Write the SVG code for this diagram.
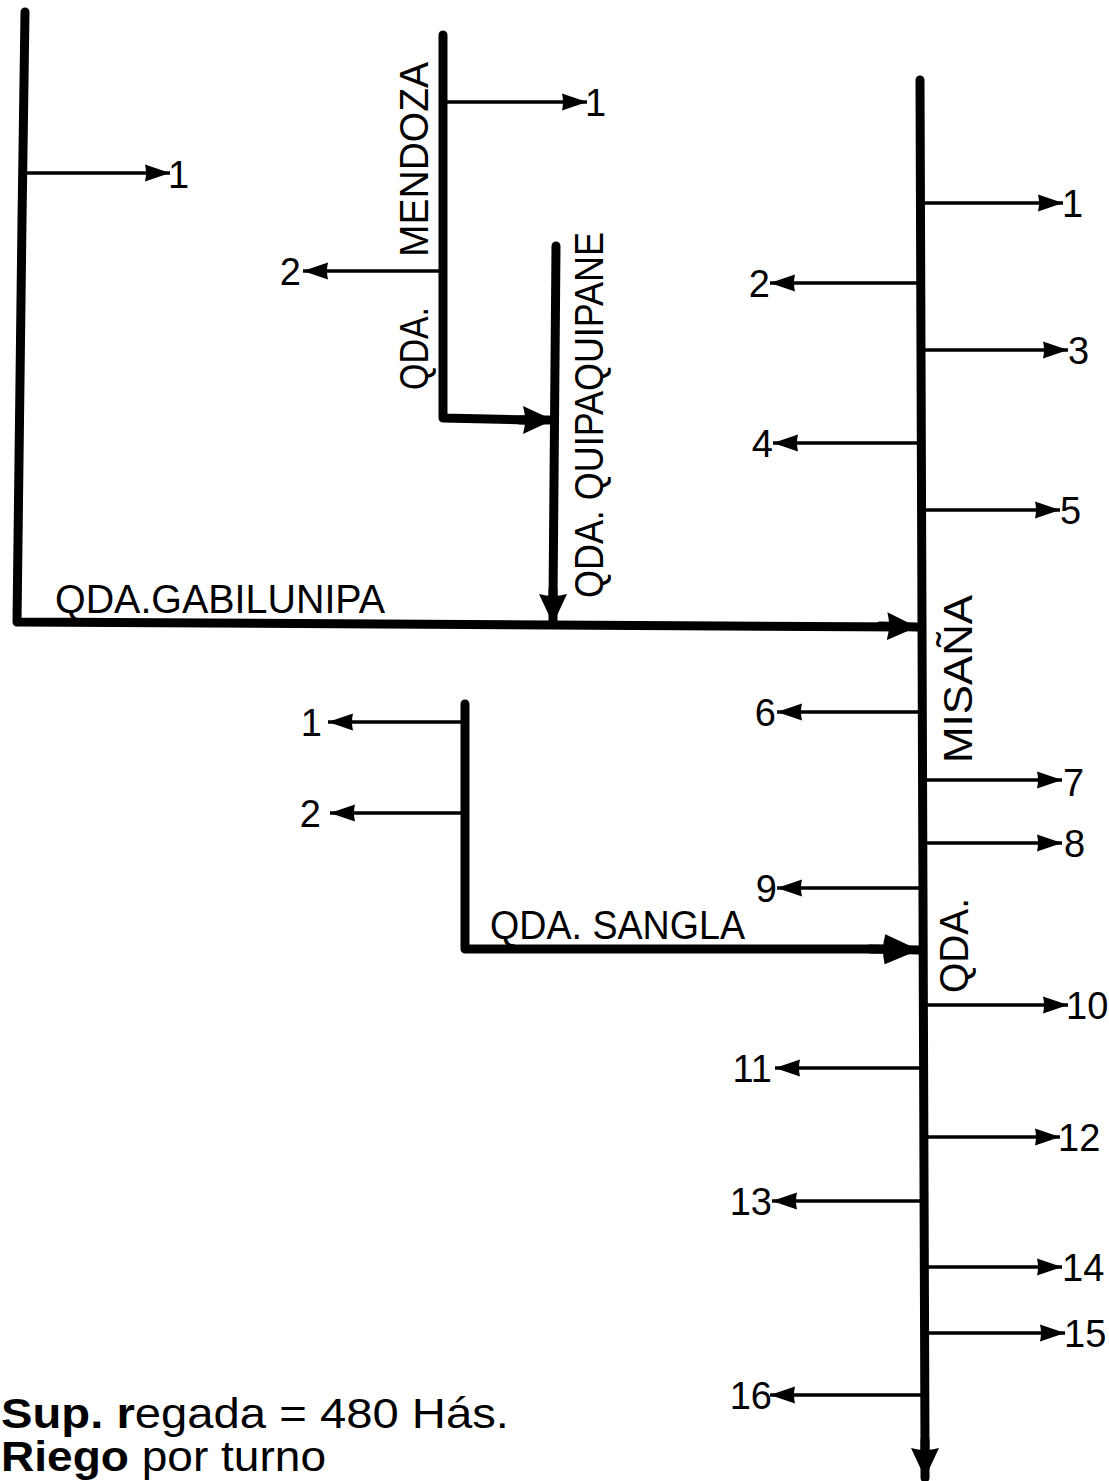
<svg xmlns="http://www.w3.org/2000/svg" width="1109" height="1481" viewBox="0 0 1109 1481">
<style>
text{font-family:"Liberation Sans",Arial,sans-serif;fill:#000}
.lbl{font-size:40px}
.num{font-size:38px}
.foot{font-size:42px}
.main{stroke:#000;stroke-width:9;fill:none;stroke-linecap:round;stroke-linejoin:round}
.br{stroke:#000;stroke-width:3.5;fill:none}
</style>
<defs>
<marker id="ah" markerUnits="userSpaceOnUse" markerWidth="26" markerHeight="20" refX="25" refY="9.5" orient="auto">
<path d="M0,1 L25,9.5 L0,18 Q2,9.5 0,1 z" fill="#000"/>
</marker>
<marker id="ahT" markerUnits="userSpaceOnUse" markerWidth="32" markerHeight="30" refX="30" refY="15" orient="auto">
<path d="M0,1 L30,15 L0,29 Q4,15 0,1 z" fill="#000"/>
</marker>
<marker id="ahS" markerUnits="userSpaceOnUse" markerWidth="40" markerHeight="34" refX="38" refY="17" orient="auto">
<path d="M4,2 Q0,17 4,32 L38,17 z" fill="#000"/>
</marker>
</defs>

<g id="qda-gabilunipa">
<polyline class="main" points="25,12 22,220 17,622 905,627"/>
<text class="lbl" x="55" y="613" textLength="330" lengthAdjust="spacingAndGlyphs">QDA.GABILUNIPA</text>
</g>

<g id="qda-mendoza">
<polyline class="main" points="443,35 443,418 530,420"/>
<text class="lbl" transform="translate(428,390) rotate(-90)" textLength="83" lengthAdjust="spacingAndGlyphs">QDA.</text>
<text class="lbl" transform="translate(428,257) rotate(-90)" textLength="195" lengthAdjust="spacingAndGlyphs">MENDOZA</text>
</g>

<g id="qda-quipaquipane">
<line class="main" x1="556" y1="246" x2="553" y2="600"/>
<text class="lbl" transform="translate(603,598) rotate(-90)" textLength="366" lengthAdjust="spacingAndGlyphs">QDA. QUIPAQUIPANE</text>
</g>

<g id="qda-misana">
<line class="main" x1="920" y1="80" x2="925" y2="1450"/>
<text class="lbl" transform="translate(972,763) rotate(-90)" textLength="168" lengthAdjust="spacingAndGlyphs">MISAÑA</text>
<text class="lbl" transform="translate(968,993) rotate(-90)" textLength="95" lengthAdjust="spacingAndGlyphs">QDA.</text>
</g>

<g id="qda-sangla">
<polyline class="main" points="465,704 465,949 885,949"/>
<text class="lbl" x="490" y="939" textLength="255" lengthAdjust="spacingAndGlyphs">QDA. SANGLA</text>
</g>

<g id="connectors">
<line class="main" x1="880" y1="626" x2="917" y2="627" marker-end="url(#ahT)" stroke-linecap="butt"/>
<line class="main" x1="520" y1="420" x2="553" y2="420" marker-end="url(#ahT)" stroke-linecap="butt"/>
<line class="main" x1="553" y1="590" x2="553" y2="624" marker-end="url(#ahT)" stroke-linecap="butt"/>
<line class="main" x1="870" y1="949" x2="919" y2="950" marker-end="url(#ahS)" stroke-linecap="butt"/>
<line class="main" x1="925" y1="1440" x2="925" y2="1478" marker-end="url(#ahT)" stroke-linecap="butt"/>
<line class="br" x1="24" y1="173" x2="170" y2="173" marker-end="url(#ah)"/>
<line class="br" x1="445" y1="102" x2="587" y2="102" marker-end="url(#ah)"/>
<line class="br" x1="441" y1="271" x2="303" y2="271" marker-end="url(#ah)"/>
<line class="br" x1="463" y1="722" x2="328" y2="722" marker-end="url(#ah)"/>
<line class="br" x1="463" y1="813" x2="330" y2="813" marker-end="url(#ah)"/>
<line class="br" x1="922" y1="203" x2="1063" y2="203" marker-end="url(#ah)"/>
<line class="br" x1="920" y1="283" x2="770" y2="283" marker-end="url(#ah)"/>
<line class="br" x1="922" y1="350" x2="1068" y2="350" marker-end="url(#ah)"/>
<line class="br" x1="920" y1="443" x2="773" y2="443" marker-end="url(#ah)"/>
<line class="br" x1="922" y1="510" x2="1060" y2="510" marker-end="url(#ah)"/>
<line class="br" x1="921" y1="712" x2="777" y2="712" marker-end="url(#ah)"/>
<line class="br" x1="923" y1="780" x2="1062" y2="780" marker-end="url(#ah)"/>
<line class="br" x1="923" y1="843" x2="1062" y2="843" marker-end="url(#ah)"/>
<line class="br" x1="921" y1="888" x2="777" y2="888" marker-end="url(#ah)"/>
<line class="br" x1="924" y1="1005" x2="1068" y2="1005" marker-end="url(#ah)"/>
<line class="br" x1="922" y1="1068" x2="775" y2="1068" marker-end="url(#ah)"/>
<line class="br" x1="924" y1="1137" x2="1060" y2="1137" marker-end="url(#ah)"/>
<line class="br" x1="922" y1="1201" x2="772" y2="1201" marker-end="url(#ah)"/>
<line class="br" x1="925" y1="1267" x2="1062" y2="1267" marker-end="url(#ah)"/>
<line class="br" x1="925" y1="1333" x2="1065" y2="1333" marker-end="url(#ah)"/>
<line class="br" x1="923" y1="1395" x2="770" y2="1395" marker-end="url(#ah)"/>
</g>

<g id="outlets-gabilunipa">
<text class="num" x="168" y="188">1</text>
</g>
<g id="outlets-mendoza">
<text class="num" x="585" y="116">1</text>
<text class="num" x="301" y="285" text-anchor="end">2</text>
</g>
<g id="outlets-sangla">
<text class="num" x="322" y="736" text-anchor="end">1</text>
<text class="num" x="321" y="827" text-anchor="end">2</text>
</g>
<g id="outlets-misana">
<text class="num" x="1062" y="217">1</text>
<text class="num" x="770" y="297" text-anchor="end">2</text>
<text class="num" x="1068" y="364">3</text>
<text class="num" x="773" y="457" text-anchor="end">4</text>
<text class="num" x="1060" y="524">5</text>
<text class="num" x="776" y="726" text-anchor="end">6</text>
<text class="num" x="1063" y="796">7</text>
<text class="num" x="1064" y="857">8</text>
<text class="num" x="777" y="902" text-anchor="end">9</text>
<text class="num" x="1066" y="1019">10</text>
<text class="num" x="772" y="1082" text-anchor="end">11</text>
<text class="num" x="1058" y="1151">12</text>
<text class="num" x="772" y="1215" text-anchor="end">13</text>
<text class="num" x="1062" y="1281">14</text>
<text class="num" x="1064" y="1347">15</text>
<text class="num" x="772" y="1409" text-anchor="end">16</text>
</g>

<g id="nota">
<text class="foot" x="1" y="1428" textLength="508" lengthAdjust="spacingAndGlyphs"><tspan font-weight="bold">Sup. r</tspan>egada = 480  Hás.</text>
<text class="foot" x="1" y="1471" textLength="325" lengthAdjust="spacingAndGlyphs"><tspan font-weight="bold">Riego</tspan>  por turno</text>
</g>
</svg>
